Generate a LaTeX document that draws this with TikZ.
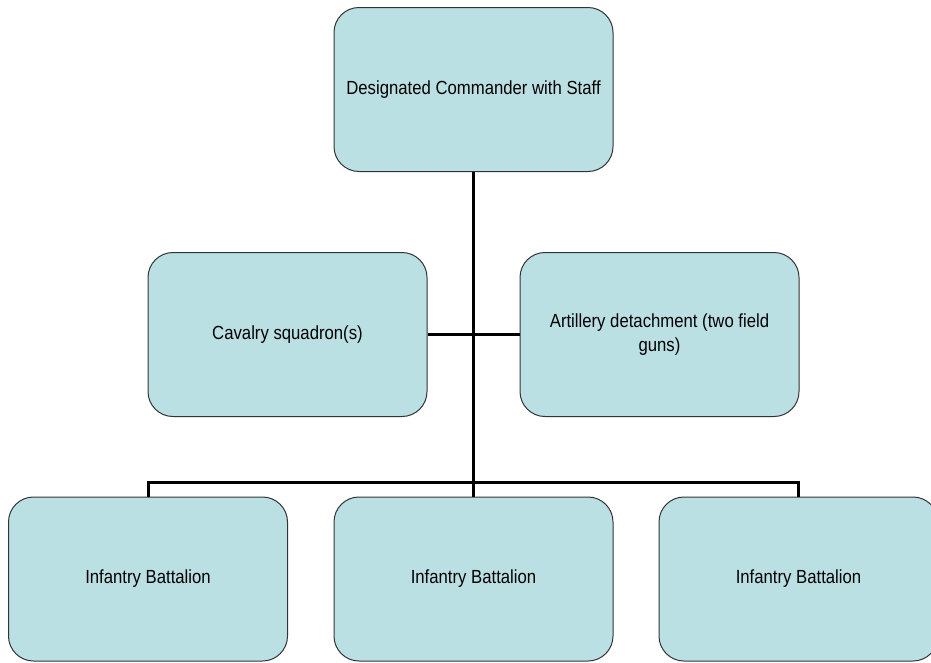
\documentclass[tikz,border=0pt]{standalone}
\usepackage{fontspec}
\setmainfont{Liberation Sans}[FakeStretch=0.88]
\usetikzlibrary{calc}

\definecolor{boxFill}{HTML}{BBE0E3}
\definecolor{boxLine}{HTML}{333333}

\begin{document}
\begin{tikzpicture}
[x=1pt,y=-1pt,
  unitDecorate/.style={shape=rectangle,rounded corners=25pt,draw=boxLine,line width=1pt,
    fill=boxFill,minimum width=279pt,minimum height=164pt,inner sep=0pt,align=center,
    font=\fontsize{19}{24}\selectfont},
  lineDecorate/.style={line width=3pt,black}]
\useasboundingbox (0,0) rectangle (931,662);
%% nodes or units
\node (hq) at (473.5,89.5) [unitDecorate] {Designated Commander with Staff};
\node (cav) at (287.5,334.5) [unitDecorate] {Cavalry squadron(s)};
\node (art) at (659.5,334.5) [unitDecorate] {Artillery detachment (two field\\guns)};
\foreach \nodename/\x in {inf1/148, inf2/473.5, inf3/798.5}
{
  \node (\nodename) at (\x,579) [unitDecorate] {Infantry Battalion};
}
\coordinate (bus) at (473.5,482);
%% lines
\draw[lineDecorate] (hq.south) -- (inf2.north);
\draw[lineDecorate] (cav.east) -- (art.west);
\draw[lineDecorate] (inf1.north) |- (bus) -| (inf3.north);
\end{tikzpicture}
\end{document}
